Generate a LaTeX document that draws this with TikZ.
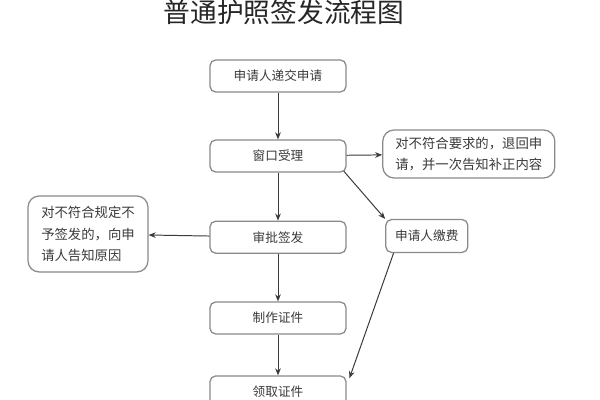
\documentclass[tikz,border=0pt]{standalone}
\usepackage{fontspec}
\newfontfamily\cjk{Noto Sans CJK SC}
\usetikzlibrary{arrows.meta}
\definecolor{boxgray}{HTML}{8A8A8A}
\definecolor{txtgray}{HTML}{3A3A3A}
\tikzset{
  procbox/.style={draw=boxgray, line width=0.9pt, rounded corners=4pt, minimum width=3.4cm, minimum height=0.8cm, font=\cjk\fontsize{9}{11}\selectfont, text=txtgray},
  notebox/.style={draw=boxgray, line width=0.9pt, rounded corners=8pt, align=left, inner sep=5pt, font=\cjk\fontsize{9.5}{15}\selectfont, text=txtgray},
  flow/.style={draw=txtgray, line width=0.7pt, -{Stealth[length=5pt,width=4pt]}}
}
\begin{document}
\begin{tikzpicture}
\useasboundingbox (0,0) rectangle (15,10);
\fill[white] (0,0) rectangle (15,10);
\path(7.1,9.7) node (title){\cjk\fontsize{19}{22}\selectfont\color{black!85}普通护照签发流程图};

% main column
\path(6.95,8.1) node[procbox] (submit){申请人递交申请};
\path(6.95,6.1) node[procbox] (accept){窗口受理};
\path(6.95,4.07) node[procbox] (approve){审批签发};
\path(6.95,2.05) node[procbox] (produce){制作证件};
\path(6.95,0.2) node[procbox] (collect){领取证件};

% side boxes
\path(11.72,6.15) node[notebox, minimum width=4.3cm, minimum height=1.2cm] (reject1){对不符合要求的，退回申\\请，并一次告知补正内容};
\path(2.2,4.15) node[notebox, minimum width=3cm, minimum height=1.9cm] (reject2){对不符合规定不\\予签发的，向申\\请人告知原因};
\path(10.67,4.1) node[procbox, minimum width=2.05cm, minimum height=0.82cm] (pay){申请人缴费};

% draw
\draw[flow] (submit) -- (accept);
\draw[flow] (accept) -- (approve);
\draw[flow] (approve) -- (produce);
\draw[flow] (produce) -- (collect);
\draw[flow] (accept) -- (reject1);
\draw[flow] (approve) -- (reject2);
\draw[flow] ([xshift=-2pt,yshift=1pt]accept.south east) -- (pay.north west);
\draw[flow] ([xshift=6pt]pay.south west) -- ([xshift=2pt,yshift=-2pt]collect.north east);
\end{tikzpicture}
\end{document}
